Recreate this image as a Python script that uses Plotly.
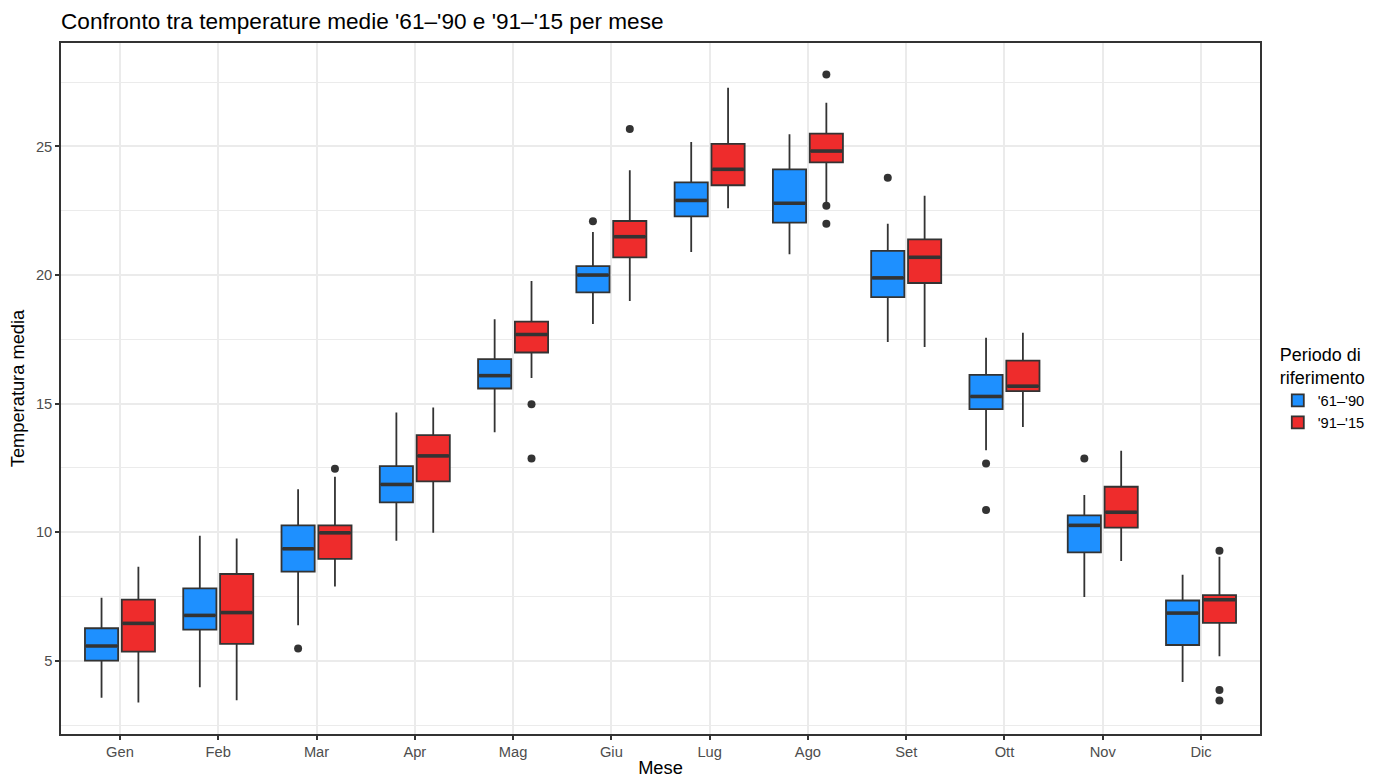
import plotly.graph_objects as go

# Monthly mean temperature distributions for two reference periods
months = ["Gen", "Feb", "Mar", "Apr", "Mag", "Giu", "Lug", "Ago", "Set", "Ott", "Nov", "Dic"]

# Period '61–'90
p1_name = "'61–'90"
p1_lower = [3.57, 3.98, 6.39, 9.67, 13.89, 18.10, 20.90, 20.81, 17.40, 13.19, 7.49, 4.18]
p1_q1 = [5.01, 6.22, 8.47, 11.16, 15.59, 19.33, 22.28, 22.04, 19.14, 14.79, 9.22, 5.62]
p1_median = [5.58, 6.77, 9.36, 11.86, 16.09, 20.00, 22.90, 22.79, 19.89, 15.28, 10.27, 6.86]
p1_q3 = [6.27, 7.82, 10.27, 12.57, 16.73, 20.35, 23.60, 24.11, 20.94, 16.12, 10.66, 7.35]
p1_upper = [7.46, 9.87, 11.67, 14.66, 18.28, 21.67, 25.17, 25.47, 21.99, 17.56, 11.45, 8.35]
p1_out_month = ["Mar", "Giu", "Set", "Ott", "Ott", "Nov"]
p1_out_value = [5.48, 22.09, 23.78, 12.67, 10.87, 12.87]

# Period '91–'15
p2_name = "'91–'15"
p2_lower = [3.38, 3.47, 7.89, 9.98, 16.00, 18.99, 22.60, 22.84, 17.20, 14.09, 8.88, 5.18]
p2_q1 = [5.36, 5.66, 8.97, 11.98, 16.99, 20.69, 23.49, 24.38, 19.69, 15.49, 10.18, 6.48]
p2_median = [6.46, 6.88, 9.98, 12.97, 17.69, 21.49, 24.11, 24.82, 20.69, 15.68, 10.78, 7.38]
p2_q3 = [7.38, 8.38, 10.27, 13.78, 18.19, 22.10, 25.10, 25.50, 21.39, 16.67, 11.77, 7.56]
p2_upper = [8.66, 9.76, 12.16, 14.85, 19.77, 24.07, 27.28, 26.70, 23.08, 17.76, 13.17, 9.05]
p2_out_month = ["Mar", "Mag", "Mag", "Giu", "Ago", "Ago", "Ago", "Dic", "Dic", "Dic"]
p2_out_value = [12.47, 14.98, 12.87, 25.68, 27.80, 22.69, 21.99, 9.28, 3.87, 3.46]

y_ticks = [5, 10, 15, 20, 25]

INK = "#333333"
GRID = "#EBEBEB"
FONT = "Liberation Sans, Arial, sans-serif"
BOX_W = 0.3375      # width of a single box (category units)
DODGE = 0.1875      # offset of each box from the month centre

series = [
    (p1_name, "#1E90FF", -DODGE, p1_lower, p1_q1, p1_median, p1_q3, p1_upper, p1_out_month, p1_out_value),
    (p2_name, "#EE2C2C", DODGE, p2_lower, p2_q1, p2_median, p2_q3, p2_upper, p2_out_month, p2_out_value),
]

fig = go.Figure()

for name, color, off, lo, q1, med, q3, hi, om, ov in series:
    xs = [i + off for i in range(len(months))]
    fig.add_trace(go.Box(
        name=name, x=xs, orientation="v",
        lowerfence=lo, q1=q1, median=med, q3=q3, upperfence=hi,
        width=BOX_W, whiskerwidth=0, boxpoints=False,
        fillcolor=color, line=dict(color=INK, width=1.8),
    ))

for name, color, off, lo, q1, med, q3, hi, om, ov in series:
    xs = [i + off for i in range(len(months))]
    # heavier median bar, as in the classic boxplot style
    mx, my = [], []
    for x, m in zip(xs, med):
        mx += [x - BOX_W / 2 + 0.01, x + BOX_W / 2 - 0.01, None]
        my += [m, m, None]
    fig.add_trace(go.Scatter(
        x=mx, y=my, mode="lines", line=dict(color=INK, width=3.6),
        showlegend=False, hoverinfo="skip",
    ))
    # outlying years
    fig.add_trace(go.Scatter(
        x=[months.index(m) + off for m in om], y=ov, mode="markers",
        marker=dict(color=INK, size=8, line=dict(width=0)),
        showlegend=False, name=name,
    ))

fig.update_layout(
    width=1381, height=778,
    margin=dict(l=61, r=120, t=43, b=44),
    paper_bgcolor="white", plot_bgcolor="white",
    boxmode="overlay",
    font=dict(family=FONT, color="black"),
    title=dict(
        text="Confronto tra temperature medie '61–'90 e '91–'15 per mese",
        x=0, xref="paper", xanchor="left",
        y=1 - 21 / 778, yref="container", yanchor="middle",
        font=dict(size=22.6, color="black", family=FONT),
    ),
    legend=dict(
        title=dict(text="Periodo di<br>riferimento", font=dict(size=18, color="black")),
        font=dict(size=14.7, color="black"),
        x=1.014, xanchor="left", y=0.5, yanchor="middle",
        bgcolor="rgba(0,0,0,0)", itemwidth=30,
    ),
    showlegend=True,
)

fig.update_xaxes(
    range=[-0.6, len(months) - 0.4],
    automargin=False,
    tickmode="array", tickvals=list(range(len(months))), ticktext=months,
    showgrid=True, gridcolor=GRID, gridwidth=2,
    zeroline=False,
    showline=True, mirror=True, linecolor=INK, linewidth=1.5,
    ticks="outside", ticklen=4, tickcolor=INK, tickwidth=1.5,
    tickfont=dict(size=14.7, color="#4D4D4D", family=FONT),
    title=dict(text="Mese", font=dict(size=18.3, color="black", family=FONT), standoff=6),
)

fig.update_yaxes(
    range=[2.16, 29.02],
    automargin=False,
    tickmode="array", tickvals=y_ticks,
    showgrid=True, gridcolor=GRID, gridwidth=2,
    minor=dict(tick0=0, dtick=2.5, showgrid=True, gridcolor=GRID, gridwidth=1),
    zeroline=False,
    showline=True, mirror=True, linecolor=INK, linewidth=1.5,
    ticks="outside", ticklen=4, tickcolor=INK, tickwidth=1.5,
    tickfont=dict(size=14.7, color="#4D4D4D", family=FONT),
    title=dict(text="Temperatura media", font=dict(size=18.3, color="black", family=FONT), standoff=7),
)

fig.write_html("out.html")
